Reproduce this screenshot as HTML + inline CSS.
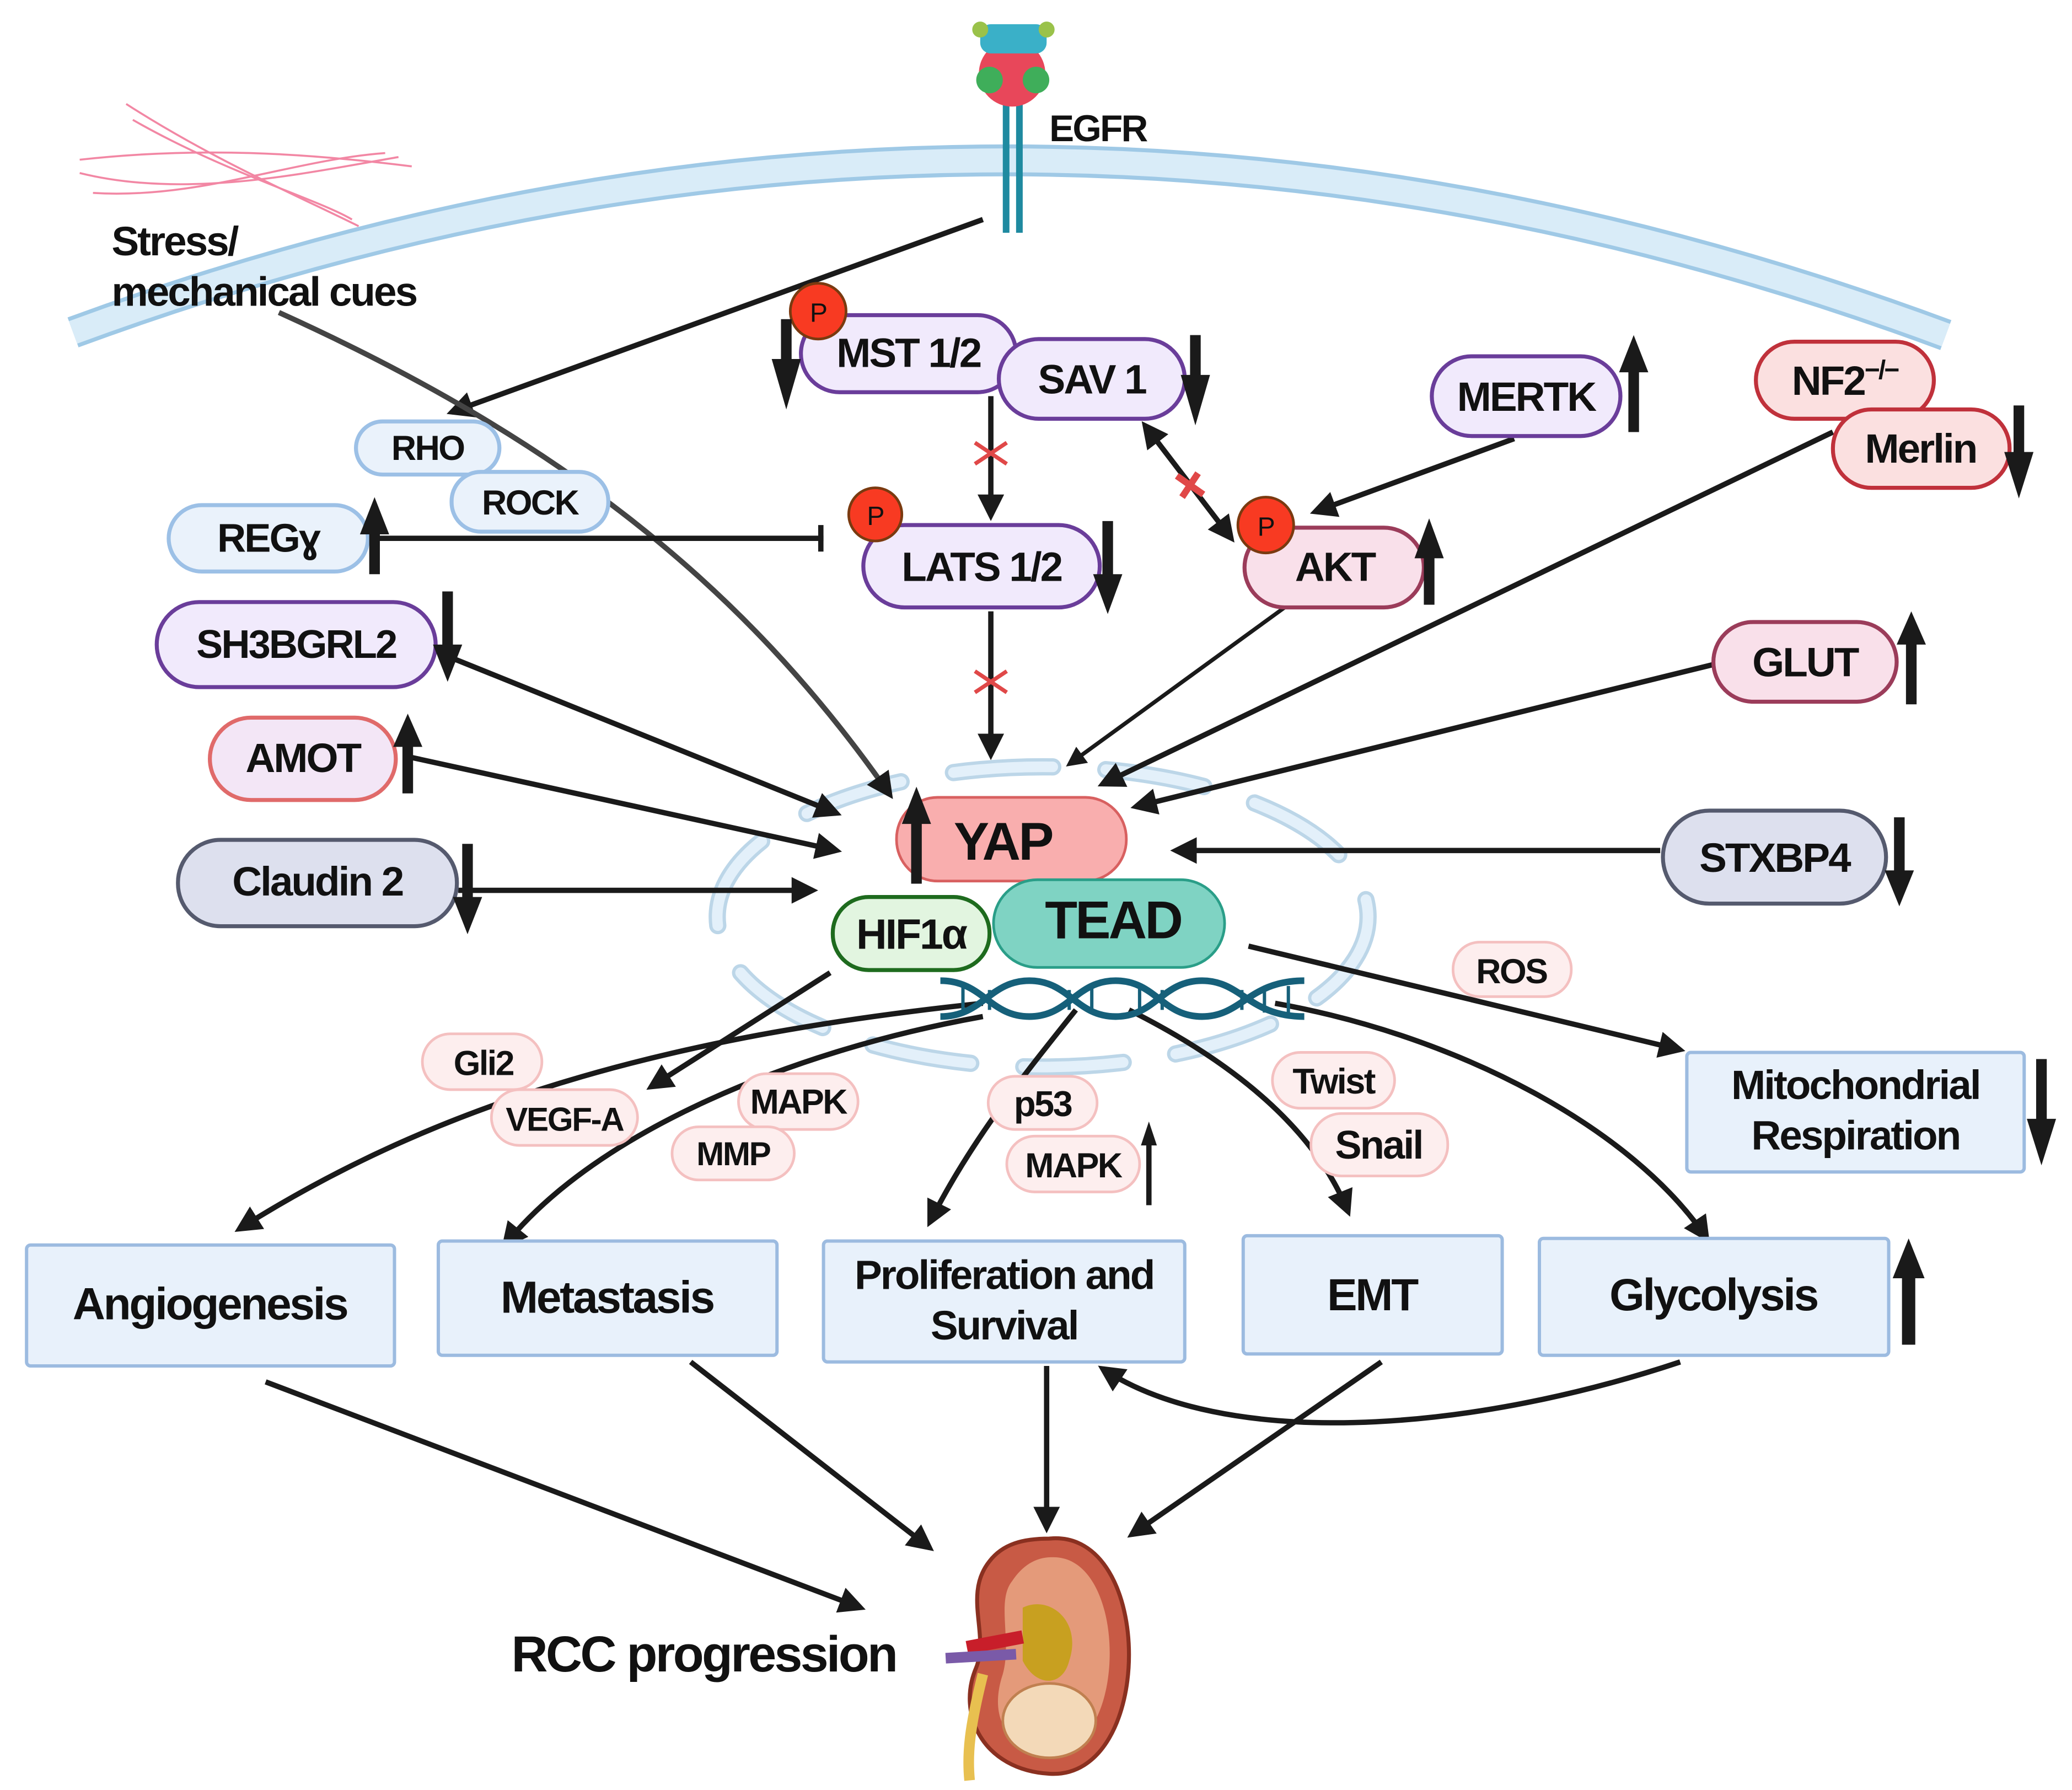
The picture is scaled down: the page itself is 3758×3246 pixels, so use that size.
<!DOCTYPE html>
<html><head><meta charset="utf-8"><style>
html,body{margin:0;padding:0;background:#fff;}
svg{display:block;}
text{font-family:"Liberation Sans Narrow","Liberation Sans",sans-serif;font-weight:bold;fill:#111;letter-spacing:-0.04em;}
</style></head><body>
<svg width="3758" height="3246" viewBox="0 0 1560 1347" xmlns="http://www.w3.org/2000/svg">
<defs>
<marker id="a" viewBox="0 0 10 10" refX="8" refY="5" markerWidth="5" markerHeight="5" orient="auto-start-reverse"><path d="M0,0 L10,5 L0,10 z" fill="#1a1a1a"/></marker>
</defs>
<path d="M55,250 Q760,-10 1465,252" fill="none" stroke="#9fc9e6" stroke-width="24"/>
<path d="M55,250 Q760,-10 1465,252" fill="none" stroke="#d9ecf8" stroke-width="18"/>
<g fill="none" stroke="#f06a8e" stroke-width="1.5" opacity="0.8">
<path d="M95,78 C160,120 230,150 270,170"/><path d="M60,120 C150,110 230,115 310,125"/><path d="M60,130 C140,150 230,130 300,118"/><path d="M70,145 C150,150 220,120 290,115"/><path d="M100,90 C170,130 240,150 265,165"/>
</g>
<text x="84" y="192" font-size="31">Stress/</text>
<text x="84" y="230" font-size="31">mechanical cues</text>
<g>
<rect x="755" y="60" width="5" height="115" fill="#1f8aa0"/><rect x="765" y="60" width="5" height="115" fill="#1f8aa0"/>
<circle cx="762" cy="55" r="25" fill="#e8475a"/><circle cx="745" cy="60" r="10" fill="#3fae5a"/><circle cx="780" cy="60" r="10" fill="#3fae5a"/>
<rect x="738" y="18" width="50" height="22" rx="8" fill="#3ab0c8"/><circle cx="738" cy="22" r="6" fill="#9ac24a"/><circle cx="788" cy="22" r="6" fill="#9ac24a"/>
</g>
<text x="790" y="106" font-size="28">EGFR</text>
<ellipse cx="785" cy="690" rx="245" ry="113" fill="none" stroke="#bcd6e8" stroke-width="13" stroke-dasharray="75 40" stroke-linecap="round"/>
<ellipse cx="785" cy="690" rx="245" ry="113" fill="none" stroke="#e3f0fa" stroke-width="8" stroke-dasharray="75 40" stroke-linecap="round"/>
<g stroke="#1a1a1a" stroke-width="4" fill="none">
<path d="M740,165 L340,310" marker-end="url(#a)"/>
<path d="M210,235 C420,330 560,440 670,598" marker-end="url(#a)" stroke="#444"/>
<path d="M746,298 L746,388" marker-end="url(#a)"/>
<path d="M746,460 L746,568" marker-end="url(#a)"/>
<path d="M862,320 L927,405" marker-start="url(#a)" marker-end="url(#a)"/>
<path d="M1140,330 L990,385" marker-end="url(#a)"/>
<path d="M970,455 L805,575" stroke-width="3" marker-end="url(#a)"/>
<path d="M1380,325 L830,590" marker-end="url(#a)"/>
<path d="M1290,500 L855,607" marker-end="url(#a)"/>
<path d="M1250,640 L885,640" marker-end="url(#a)"/>
<path d="M285,405 L620,405"/><path d="M618,395 L618,415"/>
<path d="M340,495 L630,612" marker-end="url(#a)"/>
<path d="M310,570 L630,640" marker-end="url(#a)"/>
<path d="M345,670 L612,670" marker-end="url(#a)"/>
<path d="M625,732 L490,818" marker-end="url(#a)"/>
<path d="M740,755 C500,780 330,830 180,925" marker-end="url(#a)"/>
<path d="M740,765 C600,790 450,850 380,937" marker-end="url(#a)"/>
<path d="M810,760 C770,810 730,860 700,920" marker-end="url(#a)"/>
<path d="M850,760 C930,800 990,850 1015,912" marker-end="url(#a)"/>
<path d="M960,755 C1100,780 1230,850 1285,932" marker-end="url(#a)"/>
<path d="M940,712 L1265,790" marker-end="url(#a)"/>
<path d="M200,1040 L648,1210" marker-end="url(#a)"/>
<path d="M520,1025 L700,1165" marker-end="url(#a)"/>
<path d="M788,1028 L788,1150" marker-end="url(#a)"/>
<path d="M1040,1025 L852,1155" marker-end="url(#a)"/>
<path d="M1265,1025 C1100,1080 920,1090 830,1030" marker-end="url(#a)"/>
</g>
<g stroke="#e04848" stroke-width="3"><path d="M734,333 L758,349 M734,349 L758,333"/><path d="M734,505 L758,521 M734,521 L758,505"/><path d="M886,358 L906,372 M890,374 L902,356" stroke-width="5"/></g>
<g stroke-width="3">
<rect x="603" y="237" width="162" height="58" rx="29" fill="#f1eafc" stroke="#6a3d9a"/>
<rect x="752" y="255" width="140" height="60" rx="30" fill="#f1eafc" stroke="#6a3d9a"/>
<rect x="1078" y="268" width="142" height="60" rx="30" fill="#f1eafc" stroke="#6a3d9a"/>
<rect x="650" y="395" width="178" height="62" rx="31" fill="#f1eafc" stroke="#6a3d9a"/>
<rect x="118" y="453" width="210" height="64" rx="32" fill="#f1eafc" stroke="#6a3d9a"/>
<rect x="1322" y="257" width="134" height="58" rx="29" fill="#fbe0e0" stroke="#c0313b"/>
<rect x="1380" y="308" width="133" height="59" rx="29" fill="#fbe0e0" stroke="#c0313b"/>
<rect x="268" y="317" width="108" height="40" rx="20" fill="#eaf2fb" stroke="#9cc0e6"/>
<rect x="340" y="355" width="118" height="45" rx="22" fill="#eaf2fb" stroke="#9cc0e6"/>
<rect x="127" y="380" width="150" height="50" rx="25" fill="#eaf2fb" stroke="#9cc0e6"/>
<rect x="937" y="397" width="135" height="60" rx="30" fill="#f9e0ea" stroke="#9b3c5a"/>
<rect x="1290" y="468" width="138" height="60" rx="30" fill="#f9e0ea" stroke="#9b3c5a"/>
<rect x="158" y="540" width="140" height="62" rx="31" fill="#f3e6f6" stroke="#e06a6a"/>
<rect x="134" y="632" width="210" height="65" rx="32" fill="#dde0ee" stroke="#555a6e"/>
<rect x="1252" y="610" width="168" height="70" rx="35" fill="#dde0ee" stroke="#555a6e"/>
<rect x="675" y="600" width="173" height="63" rx="31" fill="#f9aeae" stroke="#d86060" stroke-width="2"/>
<rect x="627" y="675" width="118" height="55" rx="27" fill="#e2f5e0" stroke="#1e6b1e"/>
<rect x="748" y="662" width="174" height="66" rx="33" fill="#7fd3c3" stroke="#2a9e88" stroke-width="2"/>
<g fill="#fdeeee" stroke="#f4c0c0" stroke-width="2">
<rect x="1094" y="709" width="89" height="41" rx="20"/>
<rect x="318" y="778" width="90" height="42" rx="21"/>
<rect x="370" y="820" width="110" height="42" rx="21"/>
<rect x="556" y="808" width="90" height="42" rx="21"/>
<rect x="506" y="848" width="92" height="40" rx="20"/>
<rect x="744" y="810" width="82" height="40" rx="20"/>
<rect x="758" y="855" width="100" height="42" rx="21"/>
<rect x="958" y="792" width="92" height="42" rx="21"/>
<rect x="987" y="838" width="103" height="47" rx="23"/>
</g>
<g fill="#e8f1fb" stroke="#9cbbe0" stroke-width="2.5">
<rect x="20" y="937" width="277" height="91" rx="3"/>
<rect x="330" y="934" width="255" height="86" rx="3"/>
<rect x="620" y="934" width="272" height="91" rx="3"/>
<rect x="936" y="930" width="195" height="89" rx="3"/>
<rect x="1159" y="932" width="263" height="88" rx="3"/>
<rect x="1270" y="792" width="254" height="90" rx="3"/>
</g>
</g>
<g fill="#f83a22" stroke="#7a3a10" stroke-width="2">
<circle cx="616" cy="234" r="21"/><circle cx="659" cy="387" r="20"/><circle cx="953" cy="395" r="21"/>
</g>
<g font-size="20" text-anchor="middle"><text x="616" y="242" style="font-weight:normal">P</text><text x="659" y="395" style="font-weight:normal">P</text><text x="953" y="403" style="font-weight:normal">P</text></g>
<g fill="none" stroke="#16607a" stroke-width="5">
<path d="M708,738 C740,738 745,765 775,765 C805,765 810,738 840,738 C870,738 875,765 905,765 C935,765 940,738 982,738"/>
<path d="M708,765 C740,765 745,738 775,738 C805,738 810,765 840,765 C870,765 875,738 905,738 C935,738 940,765 982,765"/>
<path d="M725,742 V762 M745,745 V760 M805,745 V760 M822,742 V762 M858,742 V762 M875,745 V760 M935,745 V760 M952,742 V762 M970,742 V762" stroke-width="2.5"/>
</g>
<g fill="#1a1a1a">
<path d="M588,240 h8 v30 h7 l-11,38 l-11,-38 h7z"/>
<path d="M896,252 h8 v30 h7 l-11,38 l-11,-38 h7z"/>
<path d="M1226,325 h8 v-45 h7 l-11,-28 l-11,28 h7z"/>
<path d="M1516,305 h8 v35 h7 l-11,35 l-11,-35 h7z"/>
<path d="M278,432 h8 v-30 h7 l-11,-28 l-11,28 h7z"/>
<path d="M830,392 h8 v40 h7 l-11,30 l-11,-30 h7z"/>
<path d="M1072,455 h8 v-35 h7 l-11,-30 l-11,30 h7z"/>
<path d="M333,445 h8 v40 h7 l-11,28 l-11,-28 h7z"/>
<path d="M1435,530 h8 v-45 h7 l-11,-25 l-11,25 h7z"/>
<path d="M303,597 h8 v-35 h7 l-11,-25 l-11,25 h7z"/>
<path d="M686,665 h8 v-45 h7 l-11,-28 l-11,28 h7z"/>
<path d="M348,635 h8 v40 h7 l-11,28 l-11,-28 h7z"/>
<path d="M1426,615 h8 v40 h7 l-11,27 l-11,-27 h7z"/>
<path d="M1533,797 h8 v45 h7 l-11,35 l-11,-35 h7z"/>
<path d="M863,907 h4 v-45 h4 l-6,-18 l-6,18 h4z"/>
<path d="M1432,1012 h10 v-50 h7 l-12,-30 l-12,30 h7z"/>
</g>
<g text-anchor="middle">
<text x="684" y="276" font-size="31">MST 1/2</text>
<text x="822" y="296" font-size="31">SAV 1</text>
<text x="1149" y="309" font-size="31">MERTK</text>
<text x="1389" y="297" font-size="31">NF2<tspan font-size="20" dy="-12">−/−</tspan></text>
<text x="1446" y="348" font-size="31">Merlin</text>
<text x="322" y="346" font-size="26">RHO</text>
<text x="399" y="387" font-size="26">ROCK</text>
<text x="202" y="415" font-size="30">REGɣ</text>
<text x="739" y="437" font-size="31">LATS 1/2</text>
<text x="1005" y="437" font-size="31">AKT</text>
<text x="223" y="495" font-size="30">SH3BGRL2</text>
<text x="1359" y="509" font-size="31">GLUT</text>
<text x="228" y="581" font-size="31">AMOT</text>
<text x="239" y="674" font-size="31">Claudin 2</text>
<text x="1336" y="656" font-size="31">STXBP4</text>
<text x="755" y="647" font-size="40">YAP</text>
<text x="686" y="714" font-size="32">HIF1α</text>
<text x="838" y="706" font-size="40">TEAD</text>
<text x="1138" y="740" font-size="26">ROS</text>
<text x="364" y="809" font-size="26">Gli2</text>
<text x="425" y="851" font-size="25">VEGF-A</text>
<text x="601" y="838" font-size="26">MAPK</text>
<text x="552" y="877" font-size="25">MMP</text>
<text x="785" y="840" font-size="27">p53</text>
<text x="808" y="886" font-size="26">MAPK</text>
<text x="1004" y="823" font-size="27">Twist</text>
<text x="1038" y="872" font-size="30">Snail</text>
<text x="158" y="993" font-size="34">Angiogenesis</text>
<text x="457" y="988" font-size="34">Metastasis</text>
<text x="756" y="970" font-size="31">Proliferation and</text>
<text x="756" y="1008" font-size="31">Survival</text>
<text x="1033" y="986" font-size="34">EMT</text>
<text x="1290" y="986" font-size="34">Glycolysis</text>
<text x="1397" y="827" font-size="31">Mitochondrial</text>
<text x="1397" y="865" font-size="31">Respiration</text>
</g>
<text x="385" y="1258" font-size="38">RCC progression</text>
<g>
<path d="M790,1158 C870,1150 870,1340 790,1335 C740,1332 720,1290 735,1255 C745,1230 725,1200 745,1175 C755,1162 770,1158 790,1158z" fill="#c85a45" stroke="#8a3020" stroke-width="3"/>
<path d="M792,1172 C850,1170 850,1318 792,1318 C755,1316 745,1290 755,1260 C762,1235 750,1205 762,1190 C770,1178 780,1172 792,1172z" fill="#e49a7a"/>
<path d="M770,1210 C790,1200 815,1220 805,1250 C800,1270 780,1270 770,1250z" fill="#c8a020"/>
<ellipse cx="790" cy="1295" rx="35" ry="28" fill="#f3d9b8" stroke="#c08050" stroke-width="2"/>
<path d="M728,1240 L770,1232" stroke="#c81e2a" stroke-width="10"/>
<path d="M712,1248 L765,1245" stroke="#7a5aa8" stroke-width="8"/>
<path d="M740,1260 C730,1300 728,1320 730,1340" stroke="#e8c050" stroke-width="8" fill="none"/>
</g>
</svg>
</body></html>
